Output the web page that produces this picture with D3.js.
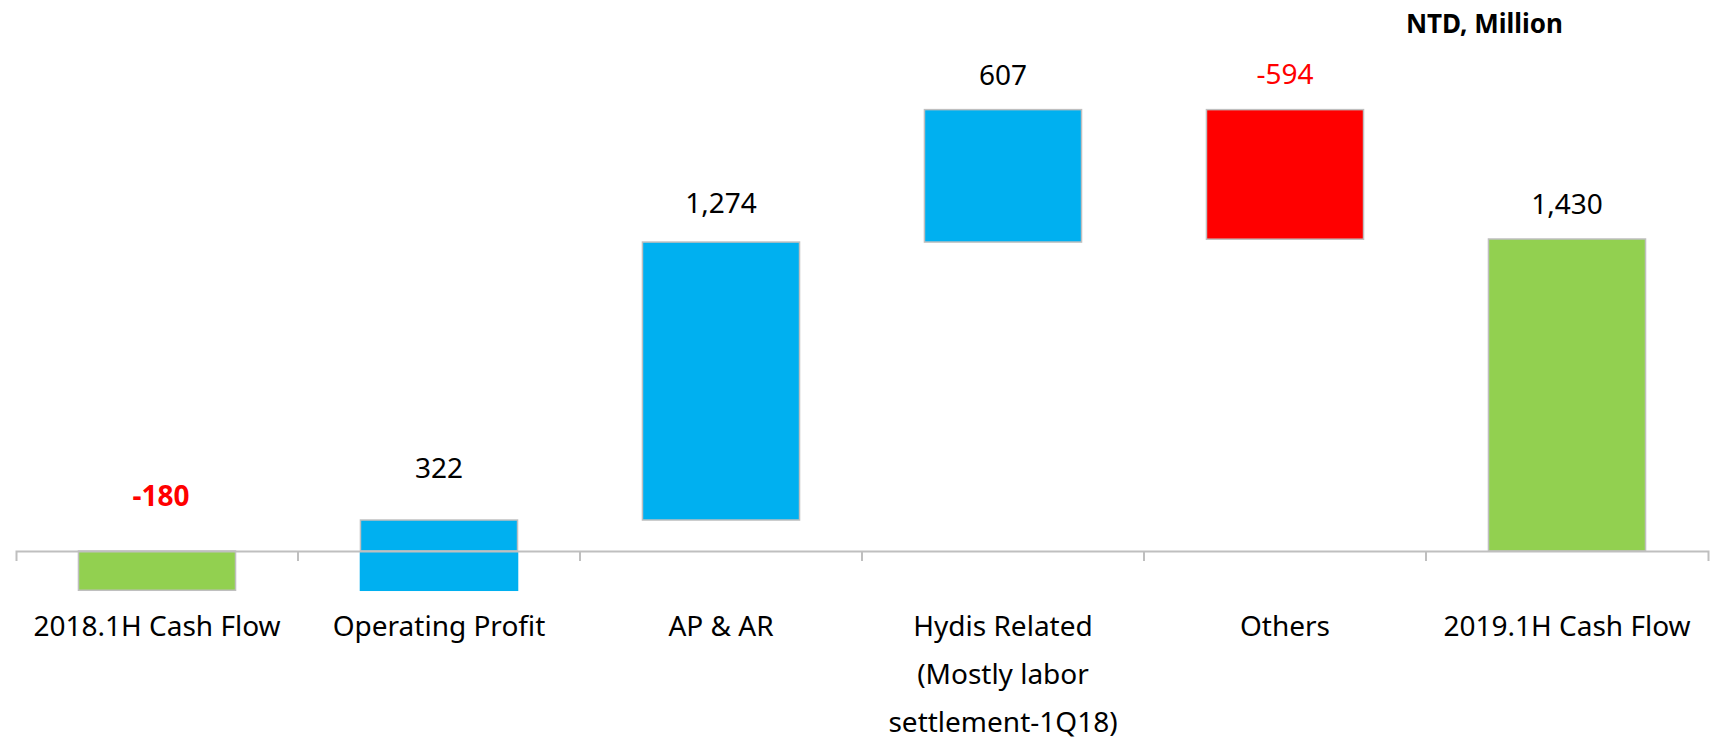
<!DOCTYPE html>
<html>
<head>
<meta charset="utf-8">
<script src="https://cdn.jsdelivr.net/npm/d3@7"></script>
<style>
  html, body { margin: 0; padding: 0; background: #fff; }
  svg { display: block; font-family: "Noto Sans", "Open Sans", sans-serif; }
</style>
</head>
<body>
<div id="chart-area"></div>
<script>
/*
*    waterfall: cash flow bridge
*/
var categories = ["2018.1H Cash Flow", "Operating Profit", "AP & AR",
    "Hydis Related\n(Mostly labor\nsettlement-1Q18)", "Others", "2019.1H Cash Flow"];
var values = [-180, 322, 1274, 607, -594, 1430];
var kinds = ["total", "delta", "delta", "delta", "delta", "total"];
var unitLabel = "NTD, Million";

var width = 1710, height = 743;

var svg = d3.select("#chart-area")
    .append("svg")
        .attr("width", width)
        .attr("height", height);

// build running start / end of each bar
var running = 0;
var bars = categories.map(function(c, i){
    var start, end;
    if (kinds[i] == "total") {
        start = 0; end = values[i];
    } else {
        start = running; end = running + values[i];
    }
    running = end;
    return { cat: c, value: values[i], kind: kinds[i], start: start, end: end, i: i };
});

// Scales
var pad = 0.443;
var x = d3.scaleBand()
    .domain(categories)
    .range([16, 1708])
    .paddingInner(pad)
    .paddingOuter(pad / 2);
var y = d3.scaleLinear()
    .domain([0, 1430])
    .range([551, 239]);

function barColor(d) {
    if (d.kind == "total") return "#92d050";
    return d.value < 0 ? "#ff0000" : "#00b0f0";
}

// Bars: the part under zero on a rising bar has no border (as in the excel sheet)
bars.forEach(function(d){
    var lo = Math.min(d.start, d.end), hi = Math.max(d.start, d.end);
    if (d.kind == "delta" && lo < 0 && hi > 0) {
        svg.append("rect")
            .attr("x", x(d.cat) - 0.75)
            .attr("width", x.bandwidth() + 1.5)
            .attr("y", y(0))
            .attr("height", y(lo) - y(0) + 0.75)
            .attr("fill", barColor(d));
        lo = 0;
    }
    svg.append("rect")
        .attr("x", x(d.cat))
        .attr("width", x.bandwidth())
        .attr("y", y(hi))
        .attr("height", y(lo) - y(hi))
        .attr("fill", barColor(d))
        .attr("stroke", "#bfbfbf")
        .attr("stroke-width", 1.5);
});

// X axis: line with outer ticks, ticks between categories
var xAxisCall = d3.axisBottom(x)
    .tickSizeInner(0)
    .tickSizeOuter(10)
    .tickFormat("");
var xAxis = svg.append("g")
    .attr("class", "x axis")
    .attr("transform", "translate(0," + y(0) + ")")
    .call(xAxisCall);
xAxis.select(".domain")
    .attr("stroke", "#bfbfbf")
    .attr("stroke-width", 2);
xAxis.selectAll(".tick").remove();

categories.slice(1).forEach(function(c){
    var bx = x(c) - x.step() * pad / 2;
    xAxis.append("line")
        .attr("x1", bx).attr("x2", bx)
        .attr("y1", 0).attr("y2", 10)
        .attr("stroke", "#bfbfbf")
        .attr("stroke-width", 2);
});

// Category labels
bars.forEach(function(d){
    var t = svg.append("text")
        .attr("x", x(d.cat) + x.bandwidth() / 2)
        .attr("y", 636)
        .attr("text-anchor", "middle")
        .attr("font-size", "28px")
        .attr("fill", "#000");
    d.cat.split("\n").forEach(function(line, k){
        t.append("tspan")
            .attr("x", x(d.cat) + x.bandwidth() / 2)
            .attr("dy", k == 0 ? 0 : 48)
            .text(line);
    });
});

// Value labels, lifted above the top of each bar
var fmt = d3.formatLocale({ decimal: ".", thousands: ",", grouping: [3], currency: ["", ""], minus: "-" }).format(",");
var labelLift = [45, 42, 29, 25, 26, 25];
bars.forEach(function(d){
    var top = Math.max(d.start, d.end, 0);
    var isFirst = d.i == 0;
    svg.append("text")
        .attr("x", x(d.cat) + x.bandwidth() / 2 + (isFirst ? 4 : 0))
        .attr("y", y(top) - labelLift[d.i])
        .attr("text-anchor", "middle")
        .attr("font-size", "28px")
        .attr("font-weight", isFirst ? "bold" : "normal")
        .attr("fill", d.value < 0 ? "#ff0000" : "#000")
        .text(fmt(d.value));
});

// Unit label
svg.append("text")
    .attr("x", 1563)
    .attr("y", 33)
    .attr("text-anchor", "end")
    .attr("font-size", "26px")
    .attr("font-weight", "bold")
    .attr("fill", "#000")
    .text(unitLabel);
</script>
</body>
</html>
